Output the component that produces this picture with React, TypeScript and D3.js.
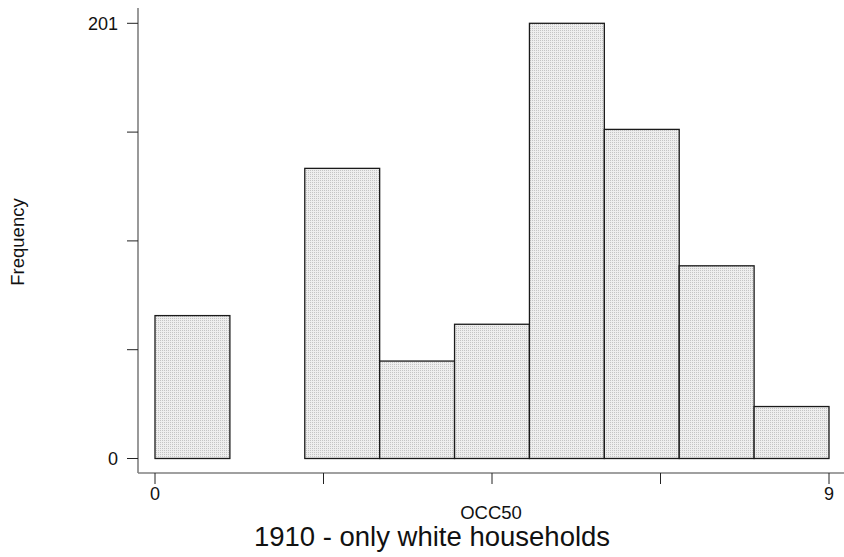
import React from "react";
import * as d3 from "d3";

const binStarts = [0, 1, 2, 3, 4, 5, 6, 7, 8];
const frequencies = [66, 0, 134, 45, 62, 201, 152, 89, 24];
const xTickValues = [0, 2.25, 4.5, 6.75, 9];
const xTickLabels = ["0", "", "", "", "9"];
const yTickValues = [0, 50.25, 100.5, 150.75, 201];
const yTickLabels = ["0", "", "", "", "201"];

const W = 844;
const H = 557;
const FONT = "'Liberation Sans', Arial, Helvetica, sans-serif";

export default function App() {
  const x = d3.scaleLinear().domain([0, 9]).range([155, 829]);
  const y = d3.scaleLinear().domain([0, 201]).range([458.5, 23.3]);
  const axisX = 138;
  const axisY = 473;

  return (
    <svg
      width={W}
      height={H}
      style={{ position: "absolute", left: 0, top: 0, background: "#fff" }}
    >
      <defs>
        <pattern id="dots" width="2" height="2" patternUnits="userSpaceOnUse">
          <rect width="2" height="2" fill="#eeeeee" />
          <rect width="1" height="1" fill="#c4c4c4" />
        </pattern>
      </defs>
      <rect width={W} height={H} fill="#fff" />
      {binStarts.map((b, i) =>
        frequencies[i] > 0 ? (
          <rect
            key={i}
            x={x(b)}
            y={y(frequencies[i])}
            width={x(b + 1) - x(b)}
            height={y(0) - y(frequencies[i])}
            fill="url(#dots)"
            stroke="#1a1a1a"
            strokeWidth={1.3}
          />
        ) : null
      )}
      {/* y axis */}
      <line x1={axisX} x2={axisX} y1={8} y2={axisY} stroke="#808080" strokeWidth={1.6} />
      {yTickValues.map((v, i) => (
        <g key={i}>
          <line x1={127} x2={axisX} y1={y(v)} y2={y(v)} stroke="#222" strokeWidth={1} />
          {yTickLabels[i] && (
            <text
              x={118}
              y={y(v)}
              dy="0.36em"
              textAnchor="end"
              fontFamily={FONT}
              fontSize={18}
              fill="#111"
            >
              {yTickLabels[i]}
            </text>
          )}
        </g>
      ))}
      {/* x axis */}
      <line x1={axisX} x2={W} y1={axisY} y2={axisY} stroke="#808080" strokeWidth={1.6} />
      {xTickValues.map((v, i) => (
        <g key={i}>
          <line x1={x(v)} x2={x(v)} y1={axisY} y2={484} stroke="#222" strokeWidth={1} />
          {xTickLabels[i] && (
            <text
              x={x(v)}
              y={500}
              textAnchor="middle"
              fontFamily={FONT}
              fontSize={18}
              fill="#111"
            >
              {xTickLabels[i]}
            </text>
          )}
        </g>
      ))}
      <text
        x={(axisX + W) / 2}
        y={519}
        textAnchor="middle"
        fontFamily={FONT}
        fontSize={18.5}
        fill="#111"
      >
        OCC50
      </text>
      <text
        x={432}
        y={546}
        textAnchor="middle"
        fontFamily={FONT}
        fontSize={27.5}
        fill="#111"
      >
        1910 - only white households
      </text>
      <text
        transform={`translate(24, 242) rotate(-90)`}
        textAnchor="middle"
        fontFamily={FONT}
        fontSize={18.5}
        fill="#111"
      >
        Frequency
      </text>
    </svg>
  );
}
